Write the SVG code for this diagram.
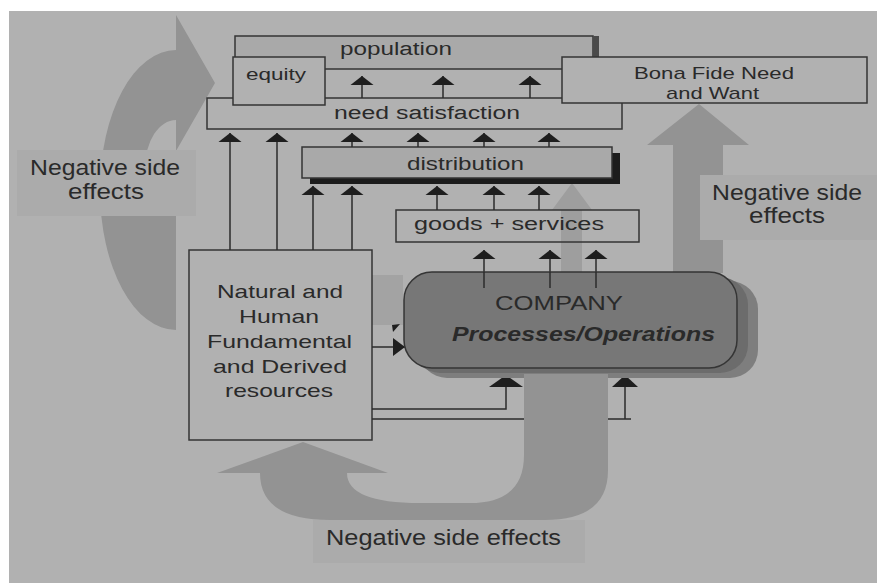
<svg xmlns="http://www.w3.org/2000/svg" width="877" height="583" viewBox="0 0 877 583">
<defs>
<style>
.t{font-family:"Liberation Sans",Arial,sans-serif;fill:#2a2a2a;}
.box{stroke:#353535;stroke-width:1.5;}
.ln{fill:none;stroke:#2b2b2b;stroke-width:1.5;}
.big{fill:#939393;}
.lbl{fill:#ababab;}
</style>
<marker id="hat" viewBox="0 -12 9 24" markerWidth="9" markerHeight="24" refX="9" refY="0" markerUnits="userSpaceOnUse" orient="auto">
<path d="M0,-11.5 L9,0 L0,11.5 Z" fill="#1e1e1e"/>
</marker>
<marker id="hatL" viewBox="0 -17 12 34" markerWidth="12" markerHeight="34" refX="12" refY="0" markerUnits="userSpaceOnUse" orient="auto">
<path d="M0,-17 L12,0 L0,17 Z" fill="#1e1e1e"/>
</marker>
<marker id="hatM" viewBox="0 -13 12 26" markerWidth="12" markerHeight="26" refX="12" refY="0" markerUnits="userSpaceOnUse" orient="auto">
<path d="M0,-13 L12,0 L0,13 Z" fill="#1e1e1e"/>
</marker>
<marker id="tri" viewBox="0 -9 12 18" markerWidth="12" markerHeight="18" refX="12" refY="0" markerUnits="userSpaceOnUse" orient="auto">
<path d="M0,-9 L12,0 L0,9 Z" fill="#1e1e1e"/>
</marker>
</defs>
<rect x="0" y="0" width="877" height="583" fill="#ffffff"/>
<rect x="9" y="11" width="868" height="572" fill="#b1b1b1"/>

<g id="bigarrows">
<path class="big" d="M176,330 A76,140 0 0 1 176,50 L176,15 L215,83 L176,151 L176,120 A31,48 0 0 0 176,216 Z"/>
<path class="big" d="M673,273 L673,145 L647,145 L699,104 L749,145 L723,145 L723,273 Z"/>
<path fill="#9e9e9e" d="M561,272 L561,210 L552,210 L572,183 L592,210 L582,210 L582,272 Z"/>
<rect x="372" y="275" width="31" height="50" fill="#a3a3a3"/>
</g>

<g id="population">
<rect class="box" x="235" y="36" width="358" height="33" fill="#a9a9a9"/>
<rect x="593" y="36" width="6" height="33" fill="#4a4a4a"/>
<text class="t" x="340" y="55" font-size="18" textLength="112" lengthAdjust="spacingAndGlyphs">population</text>
</g>
<g id="need">
<rect class="box" x="207" y="98" width="415" height="31" fill="#b1b1b1"/>
<text class="t" x="334" y="119" font-size="18" textLength="186" lengthAdjust="spacingAndGlyphs">need satisfaction</text>
</g>
<g id="equity">
<rect class="box" x="233" y="57" width="92" height="48" fill="#b1b1b1"/>
<text class="t" x="246" y="80" font-size="17" textLength="60" lengthAdjust="spacingAndGlyphs">equity</text>
</g>
<g id="bonafide">
<rect class="box" x="562" y="57" width="305" height="46" fill="#b1b1b1"/>
<text class="t" x="634" y="79" font-size="17" textLength="160" lengthAdjust="spacingAndGlyphs">Bona Fide Need</text>
<text class="t" x="666" y="99" font-size="17" textLength="93" lengthAdjust="spacingAndGlyphs">and Want</text>
</g>
<g id="distribution">
<rect x="310" y="153" width="310" height="31" fill="#1c1c1c"/>
<rect class="box" x="302" y="147" width="310" height="31" fill="#a9a9a9"/>
<text class="t" x="407" y="170" font-size="18" textLength="117" lengthAdjust="spacingAndGlyphs">distribution</text>
</g>
<g id="goods">
<rect class="box" x="396" y="210" width="243" height="32" fill="none"/>
<text class="t" x="414" y="230" font-size="18" textLength="190" lengthAdjust="spacingAndGlyphs">goods + services</text>
</g>
<g id="natural">
<rect class="box" x="189" y="250" width="183" height="190" fill="#b1b1b1"/>
<text class="t" font-size="19" x="217" y="298" textLength="126" lengthAdjust="spacingAndGlyphs">Natural and</text>
<text class="t" font-size="19" x="239" y="323" textLength="80" lengthAdjust="spacingAndGlyphs">Human</text>
<text class="t" font-size="19" x="207" y="348" textLength="145" lengthAdjust="spacingAndGlyphs">Fundamental</text>
<text class="t" font-size="19" x="213" y="373" textLength="134" lengthAdjust="spacingAndGlyphs">and Derived</text>
<text class="t" font-size="19" x="225" y="397" textLength="108" lengthAdjust="spacingAndGlyphs">resources</text>
</g>

<g id="connectors">
<line class="ln" x1="362" y1="98" x2="362" y2="76" marker-end="url(#hat)"/>
<line class="ln" x1="443" y1="98" x2="443" y2="76" marker-end="url(#hat)"/>
<line class="ln" x1="530" y1="98" x2="530" y2="76" marker-end="url(#hat)"/>
<line class="ln" x1="230" y1="250" x2="230" y2="133" marker-end="url(#hat)"/>
<line class="ln" x1="277" y1="250" x2="277" y2="133" marker-end="url(#hat)"/>
<line class="ln" x1="352" y1="147" x2="352" y2="133" marker-end="url(#hat)"/>
<line class="ln" x1="418" y1="147" x2="418" y2="133" marker-end="url(#hat)"/>
<line class="ln" x1="484" y1="147" x2="484" y2="133" marker-end="url(#hat)"/>
<line class="ln" x1="549" y1="147" x2="549" y2="133" marker-end="url(#hat)"/>
<line class="ln" x1="313" y1="250" x2="313" y2="186" marker-end="url(#hat)"/>
<line class="ln" x1="352" y1="250" x2="352" y2="186" marker-end="url(#hat)"/>
<line class="ln" x1="437" y1="210" x2="437" y2="186" marker-end="url(#hat)"/>
<line class="ln" x1="494" y1="210" x2="494" y2="186" marker-end="url(#hat)"/>
<line class="ln" x1="539" y1="210" x2="539" y2="186" marker-end="url(#hat)"/>
<line class="ln" x1="484" y1="288" x2="484" y2="250" marker-end="url(#hat)"/>
<line class="ln" x1="550" y1="288" x2="550" y2="250" marker-end="url(#hat)"/>
<line class="ln" x1="596" y1="288" x2="596" y2="250" marker-end="url(#hat)"/>
<line class="ln" x1="372" y1="347" x2="405" y2="347" marker-end="url(#tri)"/>
<path d="M392,325 L400,324 L393,332 Z" fill="#1e1e1e"/>
<polyline class="ln" points="372,409 506,409 506,375" marker-end="url(#hatL)"/>
<line class="ln" x1="372" y1="419" x2="631" y2="419"/>
<line class="ln" x1="625" y1="419" x2="625" y2="375" marker-end="url(#hatM)"/>
</g>

<g id="company">
<rect x="419" y="281" width="339" height="97" rx="28" fill="#7e7e7e"/>
<rect x="412" y="277" width="336" height="96" rx="28" fill="#6c6c6c"/>
<rect class="box" x="404" y="272" width="333" height="96" rx="28" fill="#777777"/>
<line class="ln" x1="484" y1="272" x2="484" y2="288"/>
<line class="ln" x1="550" y1="272" x2="550" y2="288"/>
<line class="ln" x1="596" y1="272" x2="596" y2="288"/>
<text class="t" x="495" y="310" font-size="20" textLength="128" lengthAdjust="spacingAndGlyphs">COMPANY</text>
<text class="t" x="452" y="341" font-size="21" font-weight="bold" font-style="italic" textLength="263" lengthAdjust="spacingAndGlyphs">Processes/Operations</text>
</g>

<g id="bottomarrow">
<path class="big" d="M303,442 L388,473 L347,473 Q347,503 420,503 L470,503 Q524,503 524,455 L524,374 L608,374 L608,470 Q608,520 545,520 L330,520 Q260,520 260,473 L217,473 Z"/>
</g>

<g id="label-left">
<rect class="lbl" x="17" y="150" width="179" height="66"/>
<text class="t" x="30" y="175" font-size="22" textLength="150" lengthAdjust="spacingAndGlyphs">Negative side</text>
<text class="t" x="68" y="199" font-size="22" textLength="76" lengthAdjust="spacingAndGlyphs">effects</text>
</g>
<g id="label-right">
<rect class="lbl" x="700" y="175" width="177" height="65"/>
<text class="t" x="712" y="200" font-size="22" textLength="150" lengthAdjust="spacingAndGlyphs">Negative side</text>
<text class="t" x="749" y="223" font-size="22" textLength="76" lengthAdjust="spacingAndGlyphs">effects</text>
</g>
<g id="label-bottom">
<rect class="lbl" x="313" y="520" width="272" height="43"/>
<text class="t" x="326" y="545" font-size="22" textLength="235" lengthAdjust="spacingAndGlyphs">Negative side effects</text>
</g>
</svg>
